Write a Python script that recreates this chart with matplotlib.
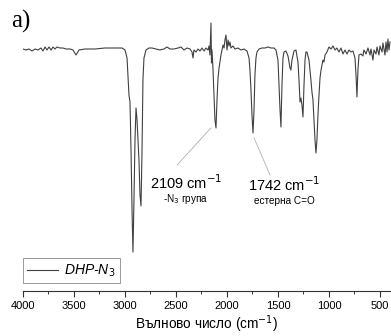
import matplotlib
matplotlib.use("Agg")
import matplotlib.pyplot as plt
from matplotlib.ticker import MultipleLocator

plt.rcParams['font.family'] = ['Liberation Sans', 'DejaVu Sans']

# FTIR spectrum (wavenumber cm-1, transmittance a.u.)
wavenumber = [4000, 3971, 3941, 3912, 3882, 3853, 3824, 3804, 3784, 3765,
              3745, 3725, 3706, 3686, 3667, 3637, 3608, 3578, 3539, 3510,
              3480, 3451, 3392, 3294, 3196, 3098, 3029, 3000, 2980, 2971,
              2961, 2951, 2941, 2931, 2922, 2912, 2902, 2892, 2882, 2863,
              2853, 2843, 2833, 2824, 2814, 2794, 2765, 2735, 2696, 2657,
              2618, 2588, 2559, 2520, 2480, 2451, 2422, 2392, 2363, 2343,
              2333, 2324, 2304, 2284, 2265, 2245, 2225, 2206, 2186, 2176,
              2167, 2157, 2152, 2147, 2137, 2127, 2118, 2108, 2098, 2088,
              2078, 2069, 2059, 2049, 2039, 2029, 2020, 2010, 2000, 1990,
              1980, 1971, 1961, 1941, 1922, 1892, 1863, 1833, 1804, 1784,
              1775, 1765, 1755, 1745, 1735, 1726, 1716, 1706, 1686, 1657,
              1627, 1598, 1569, 1539, 1520, 1500, 1490, 1480, 1471, 1461,
              1451, 1441, 1422, 1402, 1382, 1373, 1363, 1343, 1324, 1304,
              1294, 1284, 1275, 1265, 1255, 1245, 1235, 1226, 1216, 1196,
              1177, 1167, 1157, 1147, 1137, 1128, 1118, 1108, 1098, 1088,
              1078, 1069, 1059, 1049, 1039, 1020, 1000, 980, 961, 941,
              922, 902, 882, 863, 843, 824, 804, 784, 765, 745,
              735, 726, 716, 706, 686, 667, 657, 637, 618, 598,
              588, 569, 559, 539, 529, 510, 500, 480, 471, 451,
              441, 431, 422, 412, 402]
transmittance = [96.8, 96.4, 96.8, 96.0, 96.8, 96.4, 97.2, 96.0, 97.6, 96.4,
                 97.6, 96.4, 97.6, 96.8, 97.6, 97.2, 97.2, 96.8, 96.8, 96.4,
                 94.4, 96.4, 96.8, 96.8, 97.2, 97.2, 97.2, 96.4, 93.2, 86.4,
                 78.4, 75.6, 56.4, 32.4, 15.6, 36.4, 60.4, 73.2, 68.4, 52.4,
                 38.4, 34.0, 56.4, 84.4, 93.2, 96.4, 97.2, 97.2, 96.8, 96.4,
                 96.8, 97.6, 96.8, 96.8, 97.2, 97.6, 96.4, 97.2, 96.8, 95.6,
                 93.2, 96.4, 95.6, 96.8, 96.0, 97.2, 96.0, 97.2, 96.4, 98.0,
                 94.4, 107.2, 91.2, 96.4, 88.4, 78.4, 68.4, 65.2, 76.4, 85.2,
                 89.2, 91.6, 94.4, 96.4, 98.4, 97.2, 100.4, 102.4, 96.4, 100.4,
                 98.0, 99.6, 97.2, 98.0, 96.8, 97.2, 96.4, 96.8, 96.0, 93.2,
                 88.4, 80.4, 70.4, 63.2, 72.4, 86.4, 93.2, 95.6, 96.8, 97.2,
                 97.2, 97.6, 97.2, 97.2, 96.4, 92.4, 82.4, 72.4, 65.6, 82.4,
                 93.2, 95.6, 96.0, 94.0, 89.2, 88.4, 92.4, 96.0, 96.4, 91.6,
                 84.4, 75.6, 77.2, 74.4, 69.6, 82.4, 92.4, 95.6, 95.6, 92.4,
                 84.4, 79.6, 76.4, 68.4, 60.4, 55.2, 60.4, 70.4, 78.4, 85.2,
                 88.4, 90.4, 92.4, 91.6, 94.4, 95.6, 97.6, 96.8, 98.0, 96.4,
                 97.2, 95.6, 97.2, 94.8, 96.4, 94.8, 96.4, 95.6, 96.0, 93.2,
                 86.4, 77.6, 88.4, 94.4, 94.8, 94.0, 96.4, 94.8, 97.2, 94.4,
                 96.8, 92.4, 96.4, 94.8, 97.6, 94.4, 98.0, 95.6, 99.2, 94.4,
                 99.6, 95.6, 100.8, 96.4, 99.6]

series_label = 'DHP-N$_3$'
peak_labels = ['2109 cm$^{-1}$', '1742 cm$^{-1}$']
peak_notes = ['-N$_3$ група', 'естерна C=O']
x_ticks = [4000, 3500, 3000, 2500, 2000, 1500, 1000, 500]

fig = plt.figure(figsize=(3.91, 3.36), dpi=100)
ax = fig.add_axes([23 / 391, 45 / 336, 368 / 391, 291 / 336])

ax.plot(wavenumber, transmittance, color='#404040', lw=0.8, label=series_label)

# annotation leader lines
ax.plot([2157, 2490], [65.2, 50.4], color='#b0b0b0', lw=0.6)
ax.plot([1735, 1578], [61.2, 46.4], color='#b0b0b0', lw=0.6)

ax.text(2402, 43.2, peak_labels[0], ha='center', va='center', fontsize=10.5)
ax.text(2402, 37.0, peak_notes[0], ha='center', va='center', fontsize=7.2)
ax.text(1441, 42.4, peak_labels[1], ha='center', va='center', fontsize=10.5)
ax.text(1441, 36.0, peak_notes[1], ha='center', va='center', fontsize=7.2)

ax.set_xlim(4000, 392)
ax.set_ylim(0, 116.4)
ax.set_xticks(x_ticks)
ax.xaxis.set_minor_locator(MultipleLocator(250))
ax.tick_params(axis='x', which='major', direction='out', length=4, width=0.8,
               labelsize=8, pad=3, color='#333333')
ax.tick_params(axis='x', which='minor', direction='out', length=2, width=0.7,
               color='#333333')
ax.set_yticks([])
for side in ['left', 'top', 'right']:
    ax.spines[side].set_visible(False)
ax.spines['bottom'].set_color('#333333')
ax.spines['bottom'].set_linewidth(0.8)
ax.set_xlabel('Вълново число (cm$^{-1}$)', fontsize=9.8, labelpad=2)

leg = ax.legend(loc='lower left', bbox_to_anchor=(0.0, 0.027), borderaxespad=0,
                fancybox=False, edgecolor='#999999', framealpha=1,
                handlelength=2.2, handletextpad=0.45, borderpad=0.3,
                prop={'size': 10, 'style': 'italic'})
leg.get_frame().set_linewidth(0.7)

fig.text(11 / 391, 1 - 21 / 336, 'a)', fontsize=18, family='Liberation Serif',
         va='center', ha='left')

fig.savefig('out.png', dpi=100)
